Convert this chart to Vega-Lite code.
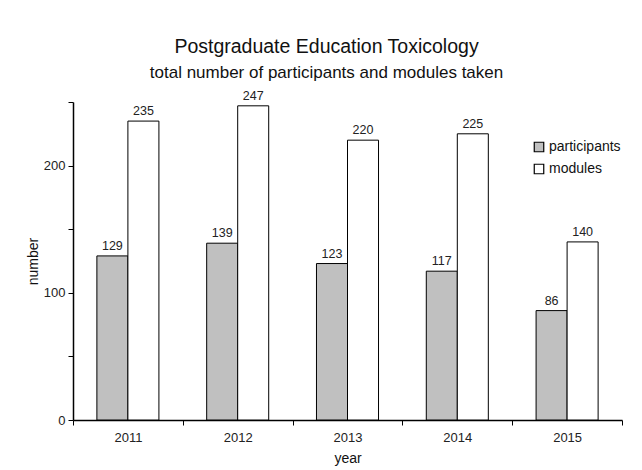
{
  "$schema": "https://vega.github.io/schema/vega-lite/v6.json",
  "autosize": "none",
  "width": 549,
  "height": 318,
  "padding": {"left": 73, "top": 102, "right": 20, "bottom": 50},
  "background": "white",
  "title": {
    "text": "Postgraduate Education Toxicology",
    "subtitle": "total number of participants and modules taken",
    "anchor": "middle",
    "dx": -21,
    "offset": 8,
    "font": "Liberation Sans",
    "fontSize": 19.5,
    "fontWeight": "normal",
    "color": "#111",
    "subtitleFont": "Liberation Sans",
    "subtitleFontSize": 17,
    "subtitleColor": "#111",
    "subtitlePadding": 7
  },
  "data": {
    "values": [
      {"year": "2011", "series": "participants", "value": 129},
      {"year": "2011", "series": "modules", "value": 235},
      {"year": "2012", "series": "participants", "value": 139},
      {"year": "2012", "series": "modules", "value": 247},
      {"year": "2013", "series": "participants", "value": 123},
      {"year": "2013", "series": "modules", "value": 220},
      {"year": "2014", "series": "participants", "value": 117},
      {"year": "2014", "series": "modules", "value": 225},
      {"year": "2015", "series": "participants", "value": 86},
      {"year": "2015", "series": "modules", "value": 140}
    ]
  },
  "encoding": {
    "x": {
      "field": "year", "type": "nominal",
      "scale": {"paddingInner": 0, "paddingOuter": 0},
      "axis": {
        "title": "year", "labelAngle": 0, "tickBand": "extent",
        "domainColor": "black", "tickColor": "black", "tickSize": 5, "domainWidth": 1.5,
        "labelFont": "Liberation Sans", "labelFontSize": 13, "labelColor": "#222", "labelPadding": 6,
        "titleFont": "Liberation Sans", "titleFontSize": 14, "titleFontWeight": "normal", "titleColor": "#111", "titlePadding": 7
      }
    },
    "xOffset": {
      "field": "series", "type": "nominal",
      "sort": ["participants", "modules"],
      "scale": {"paddingInner": 0, "paddingOuter": 0.77}
    },
    "y": {
      "field": "value", "type": "quantitative",
      "scale": {"domain": [0, 250], "nice": false},
      "axis": {
        "title": "number", "values": [0, 50, 100, 150, 200, 250],
        "labelExpr": "datum.value % 100 === 0 ? datum.label : ''",
        "grid": false, "domainColor": "black", "tickColor": "black", "tickSize": 5, "domainWidth": 1.5,
        "labelFont": "Liberation Sans", "labelFontSize": 13, "labelColor": "#222", "labelPadding": 3,
        "titleFont": "Liberation Sans", "titleFontSize": 14, "titleFontWeight": "normal", "titleColor": "#111", "titlePadding": 3
      }
    }
  },
  "layer": [
    {
      "mark": {"type": "bar", "stroke": "black", "strokeWidth": 1},
      "encoding": {
        "color": {
          "field": "series", "type": "nominal",
          "scale": {"domain": ["participants", "modules"], "range": ["#c0c0c0", "#ffffff"]},
          "legend": {
            "title": null, "orient": "none", "legendX": 459, "legendY": 38,
            "symbolType": "square", "symbolSize": 90, "symbolStrokeColor": "black", "symbolStrokeWidth": 1.2,
            "labelFont": "Liberation Sans", "labelFontSize": 14, "labelColor": "#111", "rowPadding": 6, "labelOffset": 3
          }
        }
      }
    },
    {
      "mark": {"type": "text", "dy": -10, "font": "Liberation Sans", "fontSize": 12.5, "color": "#222"},
      "encoding": {"text": {"field": "value", "type": "quantitative"}}
    }
  ],
  "config": {"view": {"stroke": null}}
}
